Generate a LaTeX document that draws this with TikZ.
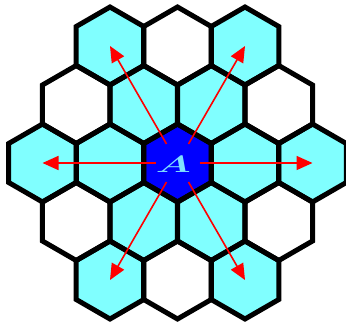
\documentclass[tikz,border=0pt]{standalone}
\usetikzlibrary{arrows.meta}
\definecolor{cellcyan}{HTML}{80FFFF}
\definecolor{cellblue}{HTML}{0000FF}
\definecolor{letterblue}{HTML}{80E0FF}
\tikzset{
  hexcell/.style={draw=black, line width=5pt, line join=miter},
  reuse/.style={->, >={Triangle[length=16pt,width=14pt]}, draw=red, fill=red, line width=1.6pt, shorten <=22pt},
}
\newcommand{\hexat}[3]{% x, y, fill
  \fill[#3] (#1,#2) +(90:39) -- +(150:39) -- +(210:39) -- +(270:39) -- +(330:39) -- +(30:39) -- cycle;
}
\newcommand{\hexline}[2]{%
  \draw[hexcell] (#1,#2) +(90:39) -- +(150:39) -- +(210:39) -- +(270:39) -- +(330:39) -- +(30:39) -- cycle;
}
\begin{document}
\begin{tikzpicture}[x=1pt,y=-1pt]
\useasboundingbox (0,0) rectangle (346,322);
\fill[white] (0,0) rectangle (346,322);
% centres
\coordinate (r1a) at (110,46);
\coordinate (r1b) at (177.5,46);
\coordinate (r1c) at (245,46);
\coordinate (r2a) at (76.25,104.5);
\coordinate (r2b) at (143.75,104.5);
\coordinate (r2c) at (211.25,104.5);
\coordinate (r2d) at (278.75,104.5);
\coordinate (r3a) at (42.5,163);
\coordinate (r3b) at (110,163);
\coordinate (c) at (177.5,163);
\coordinate (r3d) at (245,163);
\coordinate (r3e) at (312.5,163);
\coordinate (r4a) at (76.25,221.5);
\coordinate (r4b) at (143.75,221.5);
\coordinate (r4c) at (211.25,221.5);
\coordinate (r4d) at (278.75,221.5);
\coordinate (r5a) at (110,280);
\coordinate (r5b) at (177.5,280);
\coordinate (r5c) at (245,280);
% fills
\foreach \x/\y/\f in {110/46/cellcyan, 177.5/46/white, 245/46/cellcyan,
  76.25/104.5/white, 143.75/104.5/cellcyan, 211.25/104.5/cellcyan, 278.75/104.5/white,
  42.5/163/cellcyan, 110/163/cellcyan, 177.5/163/cellblue, 245/163/cellcyan, 312.5/163/cellcyan,
  76.25/221.5/white, 143.75/221.5/cellcyan, 211.25/221.5/cellcyan, 278.75/221.5/white,
  110/280/cellcyan, 177.5/280/white, 245/280/cellcyan}
  {\hexat{\x}{\y}{\f}}
% outlines
\foreach \x/\y in {110/46, 177.5/46, 245/46,
  76.25/104.5, 143.75/104.5, 211.25/104.5, 278.75/104.5,
  42.5/163, 110/163, 177.5/163, 245/163, 312.5/163,
  76.25/221.5, 143.75/221.5, 211.25/221.5, 278.75/221.5,
  110/280, 177.5/280, 245/280}
  {\hexline{\x}{\y}}
% letter
\node[text=letterblue, font=\fontsize{24}{24}\selectfont\bfseries, xscale=1.7, xslant=0.3, inner sep=0pt] (lab) at (177.5,164.5) {A};
% arrows
\draw[reuse] (c) -- (r1a);
\draw[reuse] (c) -- (r1c);
\draw[reuse] (c) -- (r3a);
\draw[reuse] (c) -- (r3e);
\draw[reuse] (c) -- (r5a);
\draw[reuse] (c) -- (r5c);
\end{tikzpicture}
\end{document}
